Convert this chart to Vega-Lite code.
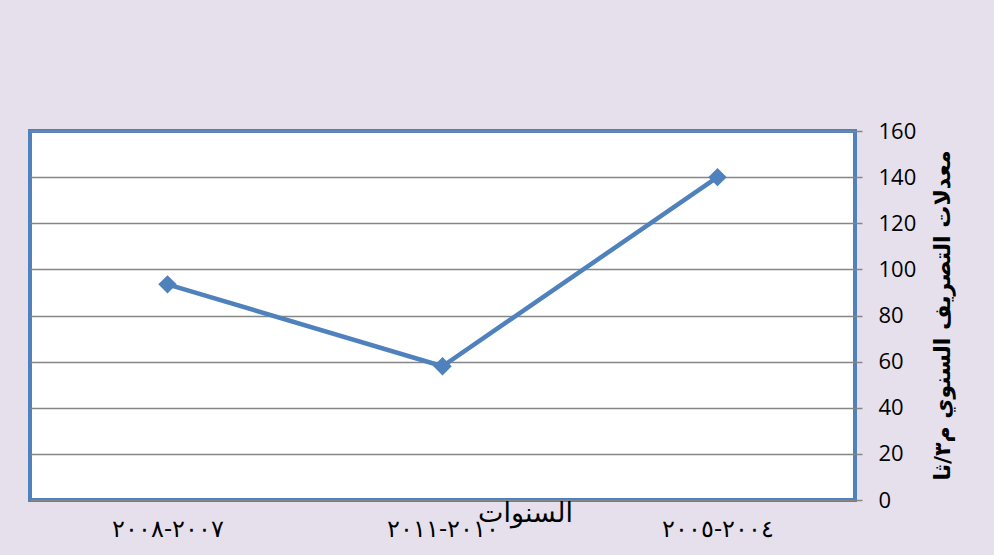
{
  "$schema": "https://vega.github.io/schema/vega-lite/v6.json",
  "width": 825,
  "height": 369,
  "autosize": "none",
  "padding": {"left": 30, "top": 131, "right": 139, "bottom": 55},
  "background": "#E6E0EC",
  "config": {
    "view": {"fill": "#FFFFFF", "stroke": "#4F81BD", "strokeWidth": 4},
    "axis": {"domain": false}
  },
  "data": {
    "values": [
      {"period": "٢٠٠٧-٢٠٠٨", "value": 93.5},
      {"period": "٢٠١٠-٢٠١١", "value": 58},
      {"period": "٢٠٠٤-٢٠٠٥", "value": 140}
    ]
  },
  "encoding": {
    "x": {
      "field": "period",
      "type": "nominal",
      "sort": null,
      "scale": {"type": "point", "padding": 0.5},
      "axis": {
        "title": "السنوات",
        "titleFont": "DejaVu Sans",
        "titleFontSize": 27,
        "titleFontWeight": "normal",
        "titleColor": "#000000",
        "titleX": 495,
        "titleY": 21,
        "titleBaseline": "alphabetic",
        "labelAngle": 0,
        "labelFont": "DejaVu Serif",
        "labelFontSize": 24,
        "labelColor": "#000000",
        "labelPadding": 17,
        "ticks": false,
        "grid": false
      }
    },
    "y": {
      "field": "value",
      "type": "quantitative",
      "scale": {"domain": [0, 160], "nice": false},
      "axis": {
        "orient": "right",
        "values": [0, 20, 40, 60, 80, 100, 120, 140, 160],
        "title": "معدلات التصريف السنوي م٣/ثا",
        "titleAngle": -90,
        "titleFont": "DejaVu Sans",
        "titleFontSize": 22,
        "titleFontWeight": "bold",
        "titleColor": "#000000",
        "titleX": 87,
        "titleY": 184,
        "titleBaseline": "middle",
        "titleAlign": "center",
        "labelFont": "Open Sans",
        "labelFontSize": 22,
        "labelColor": "#000000",
        "labelPadding": 16,
        "tickColor": "#868686",
        "tickWidth": 1.5,
        "tickSize": 7,
        "grid": true,
        "gridColor": "#868686",
        "gridWidth": 1.5,
        "gridOpacity": 1
      }
    }
  },
  "layer": [
    {"mark": {"type": "line", "color": "#4F81BD", "strokeWidth": 4.5}},
    {"mark": {"type": "point", "shape": "diamond", "filled": true, "color": "#4F81BD", "size": 340, "opacity": 1}}
  ]
}
